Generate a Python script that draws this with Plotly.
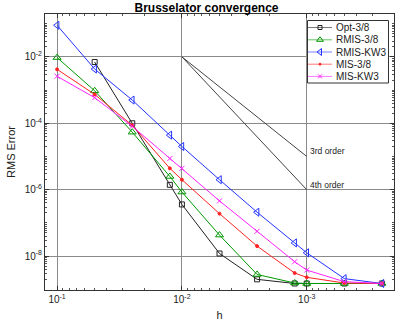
import numpy as np
import plotly.graph_objects as go

# step sizes (h) used in the convergence study
h_all = [0.1, 0.05, 0.025, 0.0125, 0.01, 0.005, 0.0025, 0.00125, 0.001, 0.0005, 0.00025]
h_opt = h_all[1:]

# RMS errors per method
err_opt38 = [7e-3, 1.0e-4, 1.4e-6, 3.6e-7, 1.2e-8, 2.0e-9, 1.5e-9, 1.5e-9, 1.5e-9, 1.5e-9]
err_rmis38 = [9.5e-3, 9.5e-4, 5.4e-5, 2.5e-6, 8.5e-7, 4.3e-8, 2.8e-9, 1.55e-9, 1.5e-9, 1.5e-9, 1.5e-9]
err_rmiskw3 = [8.9e-2, 4.3e-3, 5.0e-4, 4.4e-5, 2.0e-5, 2.0e-6, 2.1e-7, 2.5e-8, 1.26e-8, 2.1e-9, 1.5e-9]
err_mis38 = [4.2e-3, 7.4e-4, 8.7e-5, 4.4e-6, 2.0e-6, 1.9e-7, 2.0e-8, 3.1e-9, 2.3e-9, 1.55e-9, 1.5e-9]
err_miskw3 = [2.6e-3, 5.9e-4, 8.1e-5, 8.7e-6, 4.4e-6, 4.6e-7, 5.6e-8, 6.8e-9, 3.8e-9, 1.7e-9, 1.5e-9]

# reference slopes
h_ref = [0.01, 0.001]
ref_3rd = [1e-2, 1e-5]
ref_4th = [1e-2, 1e-6]

x_ticks = [0.1, 0.01, 0.001]
x_ticktext = ["10<sup>-1</sup>", "10<sup>-2</sup>", "10<sup>-3</sup>"]
y_ticks = [1e-8, 1e-6, 1e-4, 1e-2]
y_ticktext = ["10<sup>-8</sup>", "10<sup>-6</sup>", "10<sup>-4</sup>", "10<sup>-2</sup>"]

FONT = "Liberation Sans, Arial, sans-serif"

series = [
    ("Opt-3/8", h_opt, err_opt38, "#222222", "square-open", 5),
    ("RMIS-3/8", h_all, err_rmis38, "#009900", "triangle-up-open", 7),
    ("RMIS-KW3", h_all, err_rmiskw3, "#2233ff", "triangle-left-open", 7),
    ("MIS-3/8", h_all, err_mis38, "#ff2222", "circle", 3),
    ("MIS-KW3", h_all, err_miskw3, "#ff22ff", "x-thin-open", 5),
]

fig = go.Figure()

for name, xs, ys, col, sym, sz in series:
    fig.add_trace(go.Scatter(
        x=xs, y=ys, mode="lines+markers", name=name,
        line=dict(color=col, width=1),
        marker=dict(symbol=sym, size=sz, color=col, line=dict(color=col, width=1)),
        showlegend=False,
    ))

for ys in (ref_3rd, ref_4th):
    fig.add_trace(go.Scatter(x=h_ref, y=ys, mode="lines",
                             line=dict(color="#444444", width=1), showlegend=False))

# hand-made legend on a pixel-scaled overlay axis (plotly legend rows are too tall)
fig.add_trace(go.Scatter(x=[307.5, 388.5, 388.5, 307.5, 307.5], y=[20.5, 20.5, 83, 83, 20.5],
                         mode="lines", fill="toself", fillcolor="white", xaxis="x2", yaxis="y2",
                         line=dict(color="#333333", width=1), showlegend=False, hoverinfo="skip"))
leg_rows = [27.5, 39.8, 52.0, 64.2, 76.4]
for (name, xs, ys, col, sym, sz), yc in zip(series, leg_rows):
    fig.add_trace(go.Scatter(x=[308, 332], y=[yc, yc], mode="lines", xaxis="x2", yaxis="y2",
                             line=dict(color=col, width=1), opacity=0.6, showlegend=False))
    fig.add_trace(go.Scatter(x=[320], y=[yc], mode="markers", xaxis="x2", yaxis="y2",
                             marker=dict(symbol=sym, size=sz - 1, color=col, line=dict(color=col, width=1)),
                             showlegend=False))
    fig.add_annotation(x=334, y=yc, xref="x2", yref="y2", text=name, showarrow=False,
                       xanchor="left", yanchor="middle", font=dict(size=10, color="#222"))

fig.add_annotation(x=np.log10(h_ref[1]), y=np.log10(ref_3rd[1]), text="3rd order", showarrow=False,
                   xanchor="left", yanchor="middle", xshift=1, yshift=5, font=dict(size=8.5, color="#222"))
fig.add_annotation(x=np.log10(h_ref[1]), y=np.log10(ref_4th[1]), text="4th order", showarrow=False,
                   xanchor="left", yanchor="middle", xshift=1, yshift=5, font=dict(size=8.5, color="#222"))

axis_common = dict(
    type="log", showline=True, linecolor="#333333", linewidth=1, mirror="ticks",
    ticks="inside", ticklen=4, tickcolor="#333333", automargin=False,
    showgrid=True, gridcolor="#8a8a8a", gridwidth=1, zeroline=False,
    tickfont=dict(size=10, color="#222"),
    minor=dict(ticks="inside", ticklen=2, tickcolor="#555555", dtick="D1", showgrid=False),
)

fig.update_layout(
    width=399, height=321,
    margin=dict(l=45, r=5, t=14, b=31, autoexpand=False),
    paper_bgcolor="white", plot_bgcolor="white",
    font=dict(family=FONT, color="#222"),
    title=dict(text="<b>Brusselator convergence</b>", x=206.5 / 399, xanchor="center",
               y=1 - 8 / 321, yanchor="middle", font=dict(size=12, color="#000")),
    xaxis=dict(axis_common, range=[np.log10(0.125), np.log10(2e-4)],
               tickmode="array", tickvals=x_ticks, ticktext=x_ticktext,
               title=dict(text="h", font=dict(size=11), standoff=8)),
    yaxis=dict(axis_common, range=[-9.02, -0.71],
               tickmode="array", tickvals=y_ticks, ticktext=y_ticktext,
               title=dict(text="RMS Error", font=dict(size=11), standoff=6)),
    xaxis2=dict(overlaying="x", range=[45, 394], visible=False, anchor="y2"),
    yaxis2=dict(overlaying="y", range=[290, 14], visible=False, anchor="x2"),
    showlegend=False,
)

# drop the browser's default body margin so the figure sits at the window origin
fig.write_html("out.html", config={"displayModeBar": False},
               post_script="document.body.style.margin='0';")
